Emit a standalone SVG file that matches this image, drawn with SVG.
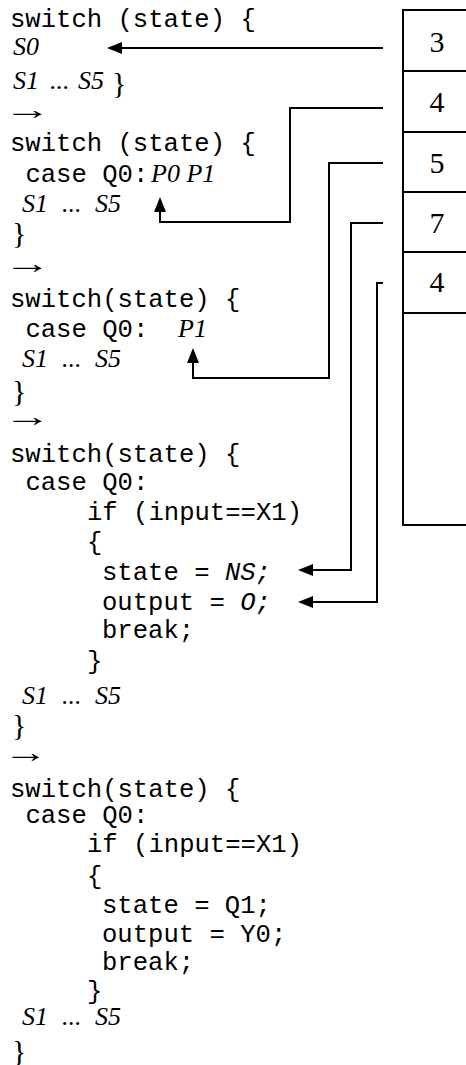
<svg xmlns="http://www.w3.org/2000/svg" width="466" height="1065" viewBox="0 0 466 1065">
  <style>
    .code { font-family: "Liberation Mono", "Courier New", monospace; font-size: 25.6px; fill: #000; }
    .ci { font-family: "Liberation Mono", "Courier New", monospace; font-size: 25.6px; font-style: italic; }
    .sym { font-family: "Liberation Serif", "Times New Roman", serif; font-size: 26px; font-style: italic; fill: #000; }
    .brace { font-family: "Liberation Serif", "Times New Roman", serif; font-size: 30px; fill: #000; }
    .arrow { font-family: "Liberation Serif", "Times New Roman", serif; font-size: 28px; fill: #000; }
    .num { font-family: "Liberation Serif", "Times New Roman", serif; font-size: 30px; fill: #000; text-anchor: middle; }
    .wire { fill: none; stroke: #000; stroke-width: 2; }
    .cell { fill: none; stroke: #000; stroke-width: 2; }
  </style>
  <defs>
    <marker id="head" viewBox="0 0 15 12" refX="0" refY="6" markerWidth="15" markerHeight="12" markerUnits="userSpaceOnUse" orient="auto">
      <path d="M0,0 L15,6 L0,12 z" fill="#000"/>
    </marker>
  </defs>
  <rect width="466" height="1065" fill="#fff"/>

  <!-- code listing, stage 1 -->
  <g id="stage1">
    <text class="code" x="10" y="27">switch (state) {</text>
    <text class="sym" x="13" y="55">S0</text>
    <text class="sym" y="89"><tspan x="13">S1</tspan><tspan x="50">...</tspan><tspan x="78">S5</tspan></text>
    <text class="brace" x="112" y="93">}</text>
    <text class="arrow" transform="translate(4,119) scale(1.7,1)">→</text>
  </g>

  <!-- stage 2 -->
  <g id="stage2">
    <text class="code" x="10" y="151">switch (state) {</text>
    <text class="code" x="25.4" y="182">case Q0:</text>
    <text class="sym" x="151" y="182">P0 P1</text>
    <text class="sym" y="212"><tspan x="22">S1</tspan><tspan x="62">...</tspan><tspan x="95">S5</tspan></text>
    <text class="brace" x="12" y="243">}</text>
    <text class="arrow" transform="translate(4,273) scale(1.7,1)">→</text>
  </g>

  <!-- stage 3 -->
  <g id="stage3">
    <text class="code" x="10" y="307">switch(state) {</text>
    <text class="code" x="25.4" y="337">case Q0:</text>
    <text class="sym" x="178" y="337">P1</text>
    <text class="sym" y="367"><tspan x="22">S1</tspan><tspan x="62">...</tspan><tspan x="95">S5</tspan></text>
    <text class="brace" x="12" y="401">}</text>
    <text class="arrow" transform="translate(4,426) scale(1.7,1)">→</text>
  </g>

  <!-- stage 4 -->
  <g id="stage4">
    <text class="code" x="10" y="462">switch(state) {</text>
    <text class="code" x="25.4" y="490">case Q0:</text>
    <text class="code" x="87" y="520">if (input==X1)</text>
    <text class="code" x="87" y="550">{</text>
    <text class="code" x="102" y="580">state = <tspan class="ci">NS;</tspan></text>
    <text class="code" x="102" y="610">output = <tspan class="ci">O;</tspan></text>
    <text class="code" x="102" y="638">break;</text>
    <text class="code" x="87" y="669">}</text>
    <text class="sym" y="704"><tspan x="22">S1</tspan><tspan x="62">...</tspan><tspan x="95">S5</tspan></text>
    <text class="brace" x="12" y="735">}</text>
    <text class="arrow" transform="translate(3,762) scale(1.6,1)">→</text>
  </g>

  <!-- stage 5 -->
  <g id="stage5">
    <text class="code" x="10" y="797">switch(state) {</text>
    <text class="code" x="25.4" y="823">case Q0:</text>
    <text class="code" x="87" y="852">if (input==X1)</text>
    <text class="code" x="87" y="884">{</text>
    <text class="code" x="102" y="913">state = Q1;</text>
    <text class="code" x="102" y="942">output = Y0;</text>
    <text class="code" x="102" y="970">break;</text>
    <text class="code" x="87" y="999">}</text>
    <text class="sym" y="1025"><tspan x="22">S1</tspan><tspan x="62">...</tspan><tspan x="95">S5</tspan></text>
    <text class="brace" x="12" y="1061">}</text>
  </g>

  <!-- value table -->
  <g id="table">
    <rect class="cell" x="403" y="10" width="100" height="515"/>
    <line class="cell" x1="403" y1="71" x2="466" y2="71"/>
    <line class="cell" x1="403" y1="132" x2="466" y2="132"/>
    <line class="cell" x1="403" y1="192" x2="466" y2="192"/>
    <line class="cell" x1="403" y1="252" x2="466" y2="252"/>
    <line class="cell" x1="403" y1="313" x2="466" y2="313"/>
    <text class="num" x="437" y="52">3</text>
    <text class="num" x="437" y="112">4</text>
    <text class="num" x="437" y="173">5</text>
    <text class="num" x="437" y="233">7</text>
    <text class="num" x="437" y="292">4</text>
  </g>

  <!-- connectors from table cells into the code -->
  <g id="connectors">
    <path class="wire" d="M383,48 H122" marker-end="url(#head)"/>
    <path class="wire" d="M383,108 H290 V222 H160 V212" marker-end="url(#head)"/>
    <path class="wire" d="M383,163 H329 V378 H193 V363" marker-end="url(#head)"/>
    <path class="wire" d="M383,223 H351 V570 H313" marker-end="url(#head)"/>
    <path class="wire" d="M383,283 H377 V602 H313" marker-end="url(#head)"/>
  </g>
</svg>
